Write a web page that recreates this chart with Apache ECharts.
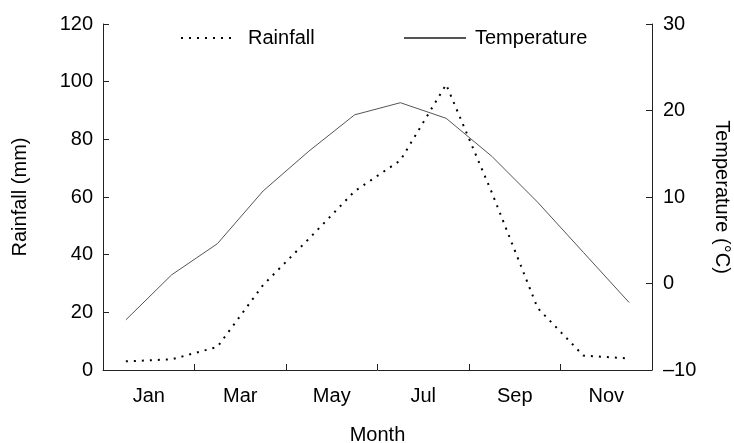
<!DOCTYPE html>
<html>
<head>
<meta charset="utf-8">
<script src="https://cdn.jsdelivr.net/npm/echarts@6/dist/echarts.min.js"></script>
<style>
html,body{margin:0;padding:0;background:#fff;}
#chart{width:734px;height:443px;}
</style>
</head>
<body>
<div id="chart"></div>
<script>
var months = ["Jan","Feb","Mar","Apr","May","Jun","Jul","Aug","Sep","Oct","Nov","Dec"];
var monthLabels = ["Jan","Mar","May","Jul","Sep","Nov"];
var rainfall = [3, 3.7, 8, 29.5, 45.5, 62, 72.7, 99, 61.5, 21.5, 5, 4];
var temperature = [-4.2, 1.0, 4.6, 10.7, 15.3, 19.5, 20.9, 19.1, 14.7, 9.4, 3.6, -2.2];
var rainTicks = {min: 0, max: 120, interval: 20};
var tempTicks = {min: -10, max: 30, interval: 10};

var FONT = "Liberation Sans, Arial, Helvetica, sans-serif";
var FS = 20;
var chart = echarts.init(document.getElementById('chart'), null, {renderer: 'canvas'});
var axisLineStyle = {color: '#222', width: 1};
var hiddenSymbol = {color: 'transparent', borderColor: 'transparent', borderWidth: 0, opacity: 0};
chart.setOption({
  animation: false,
  backgroundColor: '#fff',
  textStyle: {fontFamily: FONT},
  grid: {left: 103, right: 82, top: 24, bottom: 73, containLabel: false, outerBoundsMode: 'none'},
  legend: [
    {
      data: ['Rainfall'], left: 180, top: 28, padding: 0, itemWidth: 56, itemHeight: 14,
      itemStyle: hiddenSymbol,
      textStyle: {fontFamily: FONT, fontSize: FS, color: '#000', padding: [0,0,0,6]}
    },
    {
      data: ['Temperature'], left: 403, top: 28, padding: 0, itemWidth: 62, itemHeight: 14,
      itemStyle: hiddenSymbol,
      textStyle: {fontFamily: FONT, fontSize: FS, color: '#000', padding: [0,0,0,4]}
    }
  ],
  xAxis: [
    {
      type: 'category', data: months, boundaryGap: true, show: false
    },
    {
      type: 'category', data: monthLabels, boundaryGap: true, position: 'bottom',
      name: 'Month', nameLocation: 'middle', nameGap: 55,
      nameTextStyle: {fontFamily: FONT, fontSize: FS, color: '#000'},
      axisLine: {show: true, onZero: false, lineStyle: axisLineStyle},
      axisTick: {show: true, inside: true, length: 6, lineStyle: axisLineStyle},
      axisLabel: {fontFamily: FONT, fontSize: FS, color: '#000', margin: 16},
      splitLine: {show: false}
    }
  ],
  yAxis: [
    {
      type: 'value', min: rainTicks.min, max: rainTicks.max, interval: rainTicks.interval,
      position: 'left',
      name: 'Rainfall (mm)', nameLocation: 'middle', nameGap: 73, nameRotate: 90,
      nameTextStyle: {fontFamily: FONT, fontSize: FS, color: '#000'},
      axisLine: {show: true, onZero: false, lineStyle: axisLineStyle},
      axisTick: {show: true, inside: true, length: 6, lineStyle: axisLineStyle},
      axisLabel: {fontFamily: FONT, fontSize: FS, color: '#000', margin: 10},
      splitLine: {show: false}
    },
    {
      type: 'value', min: tempTicks.min, max: tempTicks.max, interval: tempTicks.interval,
      position: 'right',
      name: 'Temperature (°C)', nameLocation: 'middle', nameGap: 60, nameRotate: -90,
      nameTextStyle: {fontFamily: FONT, fontSize: FS, color: '#000'},
      axisLine: {show: true, onZero: false, lineStyle: axisLineStyle},
      axisTick: {show: true, inside: true, length: 6, lineStyle: axisLineStyle},
      axisLabel: {fontFamily: FONT, fontSize: FS, color: '#000', margin: 11,
        formatter: function (v) { return v < 0 ? '\u2013' + Math.abs(v) : String(v); }},
      splitLine: {show: false}
    }
  ],
  series: [
    {
      name: 'Rainfall', type: 'line', xAxisIndex: 0, yAxisIndex: 0,
      data: rainfall, symbol: 'none',
      lineStyle: {color: '#000', width: 2, type: [2, 6]},
      itemStyle: {color: '#000'}
    },
    {
      name: 'Temperature', type: 'line', xAxisIndex: 0, yAxisIndex: 1,
      data: temperature, symbol: 'none',
      lineStyle: {color: '#555', width: 1, type: 'solid'},
      itemStyle: {color: '#555'}
    }
  ]
});
</script>
</body>
</html>
